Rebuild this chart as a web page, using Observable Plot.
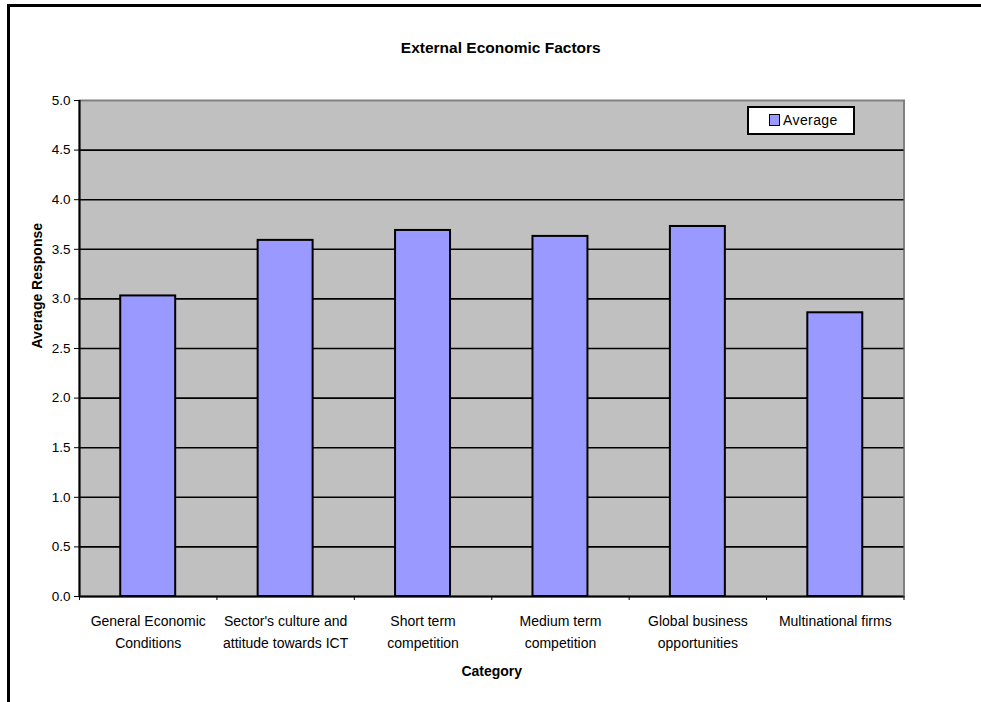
<!DOCTYPE html>
<html>
<head>
<meta charset="utf-8">
<script src="https://cdn.jsdelivr.net/npm/d3@7"></script>
<script src="https://cdn.jsdelivr.net/npm/@observablehq/plot@0.6"></script>
<style>
  html, body { margin: 0; padding: 0; background: #fff; overflow: hidden; }
  #chart {
    position: relative;
    width: 981px;
    height: 702px;
    font-family: "Liberation Sans Narrow", "Arial Narrow", "Liberation Sans", Arial, sans-serif;
  }
  #chart svg { position: absolute; left: 0; top: 0; }
  .edge-top {
    position: absolute;
    left: 7px;
    top: 4px;
    width: 974px;
    height: 3px;
    background: #000;
  }
  .edge-left {
    position: absolute;
    left: 7px;
    top: 4px;
    width: 3px;
    height: 698px;
    background: #000;
  }
  .legend {
    position: absolute;
    left: 747px;
    top: 106px;
    width: 104px;
    height: 25px;
    background: #fff;
    border: 2px solid #000;
    box-sizing: content-box;
    font-size: 14px;
    letter-spacing: 0.4px;
    color: #000;
  }
  .legend .swatch {
    position: absolute;
    left: 20px;
    top: 6px;
    width: 9px;
    height: 10px;
    background: #9999ff;
    border: 1.5px solid #000;
  }
  .legend .name {
    position: absolute;
    left: 34px;
    top: 4px;
    line-height: 17px;
  }
</style>
</head>
<body>
<div id="chart"></div>
<script>
// Survey results: average response per external economic factor
const categories = [
  "General Economic\nConditions",
  "Sector's culture and\nattitude towards ICT",
  "Short term\ncompetition",
  "Medium term\ncompetition",
  "Global business\nopportunities",
  "Multinational firms"
];
const averages = [3.03, 3.59, 3.69, 3.63, 3.73, 2.86];
const yTicks = [0, 0.5, 1, 1.5, 2, 2.5, 3, 3.5, 4, 4.5, 5];
const seriesName = "Average";
const chartTitle = "External Economic Factors";
const xTitle = "Category";
const yTitle = "Average Response";

const rows = averages.map((v, i) => ({category: categories[i], index: i, value: v}));
const boundaries = d3.range(categories.length + 1);
const gridLines = yTicks.filter(t => t > 0 && t < 5);

const font = `"Liberation Sans Narrow", "Arial Narrow", "Liberation Sans", Arial, sans-serif`;

const plot = Plot.plot({
  width: 981,
  height: 702,
  marginLeft: 79,
  marginRight: 77.5,
  marginTop: 100,
  marginBottom: 106,
  style: {fontFamily: font, fontSize: "14px", color: "#000", background: "transparent", overflow: "visible"},
  x: {type: "linear", domain: [0, categories.length]},
  y: {domain: [0, 5]},
  marks: [
    Plot.frame({fill: "#c0c0c0", stroke: "#808080", strokeWidth: 2}),
    Plot.ruleY(gridLines, {stroke: "#000", strokeWidth: 1.6}),
    Plot.rectY(rows, {
      x1: d => d.index + 0.3,
      x2: d => d.index + 0.7,
      y1: 0,
      y2: "value",
      fill: "#9999ff",
      stroke: "#000",
      strokeWidth: 2
    }),
    Plot.ruleY([0], {stroke: "#000", strokeWidth: 2}),
    Plot.ruleX([0], {stroke: "#000", strokeWidth: 2}),
    Plot.axisY({
      ticks: yTicks,
      tickFormat: d3.format(".1f"),
      tickSize: 5,
      tickPadding: 4,
      label: null,
      fontSize: 13.5,
      stroke: "#000"
    }),
    Plot.axisX({
      ticks: boundaries,
      tickFormat: () => "",
      tickSize: 4,
      label: null,
      stroke: "#000"
    }),
    Plot.text(rows, {
      x: d => d.index + 0.5,
      text: "category",
      frameAnchor: "bottom",
      lineAnchor: "top",
      lineHeight: 1.55,
      dy: 14,
      fontSize: 14,
      fill: "#000"
    }),
    Plot.text([xTitle], {
      frameAnchor: "bottom",
      lineAnchor: "top",
      dy: 70,
      fontSize: 14,
      fontWeight: "bold",
      fill: "#000"
    }),
    Plot.text([yTitle], {
      frameAnchor: "left",
      dx: -42,
      rotate: -90,
      fontSize: 14,
      fontWeight: "bold",
      fill: "#000"
    }),
    Plot.text([chartTitle], {
      frameAnchor: "top",
      lineAnchor: "bottom",
      dx: 9,
      dy: -48,
      fontSize: 15.5,
      fontWeight: "bold",
      fill: "#000"
    })
  ]
});

const chart = document.getElementById("chart");
chart.appendChild(plot);

for (const cls of ["edge-top", "edge-left"]) {
  const line = document.createElement("div");
  line.className = cls;
  chart.appendChild(line);
}

const legend = document.createElement("div");
legend.className = "legend";
legend.innerHTML = `<span class="swatch"></span><span class="name"></span>`;
legend.querySelector(".name").textContent = seriesName;
chart.appendChild(legend);
</script>
</body>
</html>
